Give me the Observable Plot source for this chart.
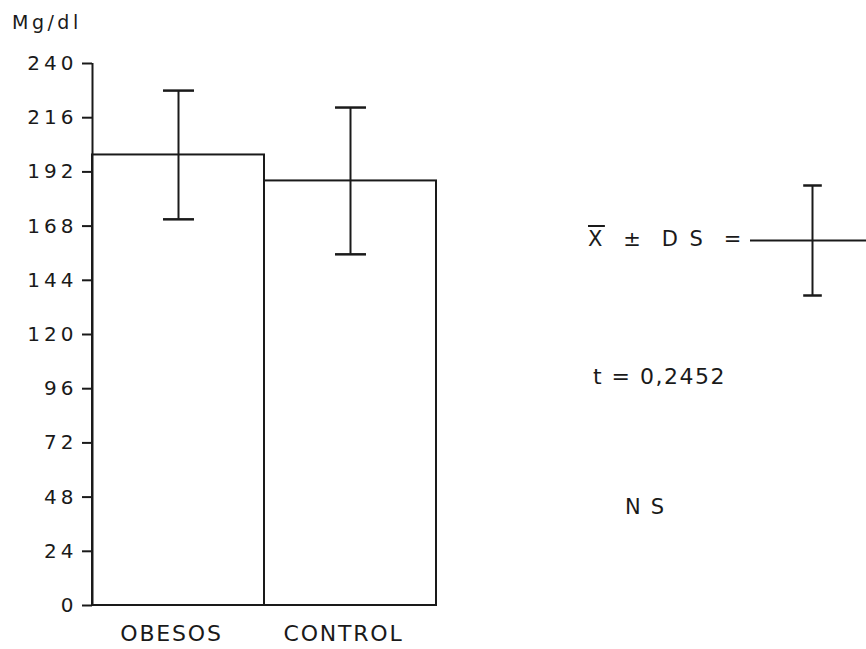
<!DOCTYPE html>
<html>
<head>
<meta charset="utf-8">
<script src="https://cdn.jsdelivr.net/npm/d3@7"></script>
<script src="https://cdn.jsdelivr.net/npm/@observablehq/plot@0.6"></script>
<style>
  html, body { margin: 0; padding: 0; background: #fff; overflow: hidden; }
  #wrap { position: relative; width: 866px; height: 649px; overflow: hidden; font-family: "DejaVu Sans", sans-serif; color: #1a1a1a; }
  #wrap > svg { position: absolute; }
  .lbl { position: absolute; white-space: nowrap; line-height: 1; }
  g[aria-label="y-axis tick label"] text { letter-spacing: 4px; }
  g[aria-label="x-axis tick label"] text { letter-spacing: 1.8px; }
</style>
</head>
<body>
<div id="wrap"></div>
<script>
// ---- data ----
const categories = ["OBESOS", "CONTROL"];
const means = [199.5, 188];
const sds = [28.5, 32.5];
const yTicks = [0, 24, 48, 72, 96, 120, 144, 168, 192, 216, 240];
const unitLabel = "Mg/dl";
const tLabel = "t = 0,2452";
const nsLabel = "NS";
const legendMean = [0];
const legendSd = [1];

const rows = categories.map((c, i) => ({cat: c, x1: i, x2: i + 1, mean: means[i], sd: sds[i]}));
const capRows = rows.flatMap(d => [d.mean + d.sd, d.mean - d.sd].map(v => ({c: (d.x1 + d.x2) / 2, v})));

const wrap = document.getElementById("wrap");
const ink = "#1a1a1a";
const font = "'DejaVu Sans', sans-serif";

const main = Plot.plot({
  width: 866,
  height: 649,
  marginTop: 63,
  marginBottom: 44,
  marginLeft: 92,
  marginRight: 430,
  style: {fontFamily: font, color: ink, background: "white", overflow: "visible"},
  x: {domain: [0, categories.length]},
  y: {domain: [0, 240]},
  marks: [
    Plot.rectY(rows, {x1: "x1", x2: "x2", y: "mean", fill: "white", stroke: ink, strokeWidth: 2}),
    Plot.ruleX([0], {y1: 0, y2: 240, stroke: ink, strokeWidth: 2}),
    Plot.ruleX(rows, {x: d => (d.x1 + d.x2) / 2, y1: d => d.mean - d.sd, y2: d => d.mean + d.sd, stroke: ink, strokeWidth: 2}),
    Plot.link(capRows, {x1: d => d.c - 0.09, x2: d => d.c + 0.09, y1: "v", y2: "v", stroke: ink, strokeWidth: 2.5}),
    Plot.axisY({ticks: yTicks, tickSize: 10, tickPadding: 5, fontSize: 20, label: null, stroke: ink, strokeWidth: 2}),
    Plot.axisX({ticks: categories.map((c, i) => i + 0.5), tickFormat: d => categories[Math.floor(d)], tickSize: 0, tickPadding: 20, fontSize: 22, dx: -7, label: null})
  ]
});
main.style.left = "0px";
main.style.top = "0px";
wrap.appendChild(main);

// legend cross: X̄ ± DS symbol
const legend = Plot.plot({
  width: 124, height: 132,
  margin: 0,
  style: {background: "transparent", overflow: "visible"},
  x: {domain: [-1, 1], axis: null},
  y: {domain: [-1.2, 1.2], axis: null},
  marks: [
    Plot.ruleY(legendMean, {stroke: ink, strokeWidth: 2}),
    Plot.ruleX(legendMean, {y1: d => d - legendSd[0], y2: d => d + legendSd[0], stroke: ink, strokeWidth: 2}),
    Plot.link(legendSd.flatMap(s => [s, -s]), {x1: -0.15, x2: 0.15, y1: d => d, y2: d => d, stroke: ink, strokeWidth: 2.5})
  ]
});
legend.style.left = "750px";
legend.style.top = "174px";
wrap.appendChild(legend);

function addLabel(html, left, top, size, spacing) {
  const d = document.createElement("div");
  d.className = "lbl";
  d.innerHTML = html;
  d.style.left = left + "px";
  d.style.top = top + "px";
  d.style.fontSize = size + "px";
  if (spacing) d.style.letterSpacing = spacing;
  wrap.appendChild(d);
}
addLabel(unitLabel, 12, 13, 19, "3.5px");
addLabel('<span style="text-decoration:overline">X</span>&nbsp;&nbsp;±&nbsp;&nbsp;D&nbsp;S&nbsp;&nbsp;=', 588, 229, 21, "2.5px");
addLabel(tLabel, 593, 366, 22, "1.5px");
addLabel(nsLabel, 625, 497, 21, "10px");
</script>
</body>
</html>
